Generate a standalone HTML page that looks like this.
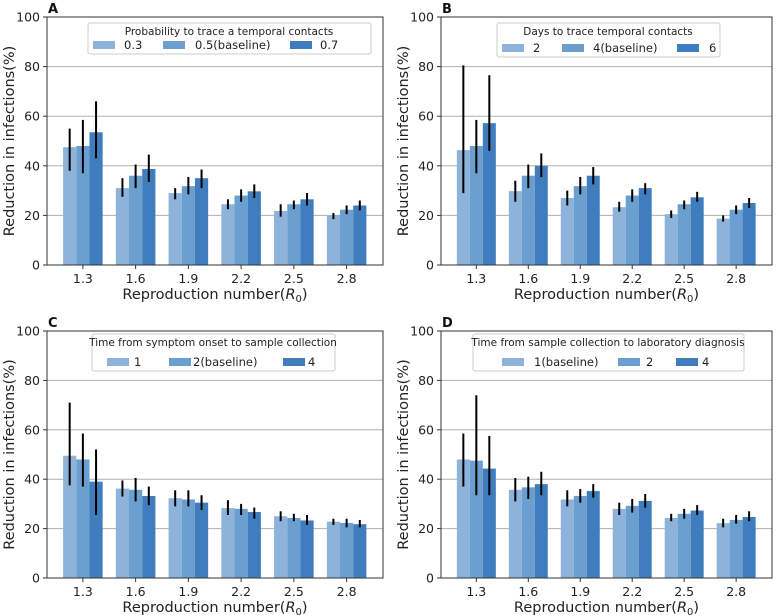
<!DOCTYPE html>
<html><head><meta charset="utf-8"><style>
body{margin:0;background:#fff;}
svg{display:block;font-family:"DejaVu Sans","Liberation Sans",sans-serif;}
</style></head><body>
<svg id="fig" width="778" height="615" viewBox="0 0 778 615"></svg>
<script>
const categories = ["1.3","1.6","1.9","2.2","2.5","2.8"];
const yTicks = [0,20,40,60,80,100];
const colors = ["#8db3da","#6a9fd0","#3f7dbe"];
// Panel A
const aTitle = "Probability to trace a temporal contacts";
const aLabels = ["0.3","0.5(baseline)","0.7"];
const aMean = [[47.5,31,29,24.5,21.8,20],[48,36,31.8,28,24.5,22.3],[53.5,38.7,35,29.7,26.5,24]];
const aLo = [[38,27.5,26.5,22.5,19.5,18.5],[37,31,28.5,25.5,22.5,20.5],[43,33.5,31,27,24,22]];
const aHi = [[55,35,31,26.5,24.5,21],[58.5,40.5,35.5,30.5,26,24],[66,44.5,38.5,32.5,29,26]];
// Panel B
const bTitle = "Days to trace temporal contacts";
const bLabels = ["2","4(baseline)","6"];
const bMean = [[46.3,29.8,27,23.3,20.5,18.7],[48,36,31.8,28,24.5,22.3],[57.2,40,36,31,27.3,25]];
const bLo = [[29,25.5,24,21.5,19,17.5],[37,31,28.5,25.5,22.5,20.5],[46,35.5,32.5,28.5,25.5,23]];
const bHi = [[80.5,34,30,25.5,22,20],[58.5,40.5,35.5,30.5,26,24],[76.5,45,39.5,33,29.5,27]];
// Panel C
const cTitle = "Time from symptom onset to sample collection";
const cLabels = ["1","2(baseline)","4"];
const cMean = [[49.5,36.2,32.3,28.3,25,22.8],[48,35.7,31.8,28,24.3,22.3],[39,33.2,30.5,26.7,23.3,21.8]];
const cLo = [[37.5,33,29,25.5,23,21.5],[37,31,29,25.5,23,20.5],[25.5,29.5,27.5,24,21.5,20.5]];
const cHi = [[71,39.5,35.5,31.5,27,24],[58.5,40.5,35.5,30,26,24],[52,37,33.5,28.5,25.5,23.5]];
// Panel D
const dTitle = "Time from sample collection to laboratory diagnosis";
const dLabels = ["1(baseline)","2","4"];
const dMean = [[48,35.7,31.8,28,24.3,22.2],[47.5,36.7,33.2,29.2,26,23.5],[44.3,38,35.2,31.2,27.3,24.7]];
const dLo = [[37,31,29,25.5,23,20.5],[33.5,32,30.5,26.5,24,22],[33.5,33.5,32.5,28.5,25.5,23]];
const dHi = [[58.5,40.5,35.5,30.5,26,24],[74,41,36,32,28,25.5],[57.5,43,38,34,29.5,27]];

const NS="http://www.w3.org/2000/svg";
const svg=document.getElementById('fig');
function mk(tag,attrs,parent,text){const e=document.createElementNS(NS,tag);for(const k in attrs)e.setAttribute(k,attrs[k]);if(text!==undefined)e.textContent=text;(parent||svg).appendChild(e);return e;}

const panels=[
 {id:"a",letter:"A",L:47,R:383,T:17,B:265,mean:aMean,lo:aLo,hi:aHi,title:aTitle,labels:aLabels,
  leg:{x:88,y:23,w:283,h:31,tx:229,patch:[93,163,290],lab:[124,195,320]}},
 {id:"b",letter:"B",L:441,R:772,T:17,B:265,mean:bMean,lo:bLo,hi:bHi,title:bTitle,labels:bLabels,
  leg:{x:497,y:23,w:223,h:34,tx:608,patch:[502,562,677],lab:[533,593,709]}},
 {id:"c",letter:"C",L:47,R:383,T:331,B:578,mean:cMean,lo:cLo,hi:cHi,title:cTitle,labels:cLabels,
  leg:{x:92,y:334,w:243,h:37,tx:213,patch:[107,169,283],lab:[134,193,308]}},
 {id:"d",letter:"D",L:441,R:772,T:331,B:578,mean:dMean,lo:dLo,hi:dHi,title:dTitle,labels:dLabels,
  leg:{x:473,y:334,w:271,h:37,tx:608,patch:[502,618,676],lab:[534,646,702]}}
];
const XMIN=-0.68, XMAX=5.69;
panels.forEach(p=>{
  const g=mk('g',{});
  
  
  const xs=i=>p.L+(i-XMIN)/(XMAX-XMIN)*(p.R-p.L);
  const ys=v=>p.B-v/100*(p.B-p.T);
  const step=xs(1)-xs(0), bw=step*0.25;
  yTicks.forEach(t=>{ if(t>0&&t<100){const l=mk('line',{x1:p.L,x2:p.R,y1:ys(t),y2:ys(t),stroke:'#b0b0b0','stroke-width':1},g);
    }});
  for(let s=0;s<3;s++){for(let i=0;i<categories.length;i++){
    const cx=xs(i)+(s-1)*bw;
    const r=mk('rect',{x:cx-bw/2,y:ys(p.mean[s][i]),width:bw,height:ys(0)-ys(p.mean[s][i]),fill:colors[s]},g);
    
    
  }}
  for(let s=0;s<3;s++){for(let i=0;i<categories.length;i++){
    const cx=xs(i)+(s-1)*bw;
    const e=mk('line',{x1:cx,x2:cx,y1:ys(p.lo[s][i]),y2:ys(p.hi[s][i]),stroke:'#000','stroke-width':2},g);
    
    
  }}
  const fr=mk('rect',{x:p.L,y:p.T,width:p.R-p.L,height:p.B-p.T,fill:'none',stroke:'#333','stroke-width':1},g);
  
  yTicks.forEach(t=>{mk('line',{x1:p.L-4,x2:p.L,y1:ys(t),y2:ys(t),stroke:'#333'},g);
    const tx=mk('text',{x:p.L-7,y:ys(t)+4.5,'text-anchor':'end','font-size':12.5,fill:'#222'},g,String(t));
    });
  categories.forEach((c,i)=>{mk('line',{x1:xs(i),x2:xs(i),y1:p.B,y2:p.B+4,stroke:'#333'},g);
    const tx=mk('text',{x:xs(i),y:p.B+18,'text-anchor':'middle','font-size':12.5,fill:'#222'},g,c);
    });
  const xl=mk('text',{x:(p.L+p.R)/2,y:p.B+34,'text-anchor':'middle','font-size':14.5,fill:'#222'},g);
  
  xl.innerHTML='Reproduction number(<tspan font-style="italic">R</tspan><tspan font-size="10" dy="3">0</tspan><tspan dy="-3">)</tspan>';
  const yc=(p.T+p.B)/2, yx=p.L-33;
  const yl=mk('text',{x:yx,y:yc,'text-anchor':'middle','font-size':14.5,fill:'#222',transform:`rotate(-90 ${yx} ${yc})`},g,'Reduction in infections(%)');
  
  const lt=mk('text',{x:p.L+1,y:p.T-4,'font-size':13,'font-weight':'bold',fill:'#111'},g,p.letter);
  
  const lg=mk('g',{},g);
  
  const q=p.leg;
  mk('rect',{x:q.x,y:q.y,width:q.w,height:q.h,fill:'#fff','fill-opacity':0.85,stroke:'#ccc',rx:2},lg);
  const lti=mk('text',{x:q.tx,y:q.y+12,'text-anchor':'middle','font-size':10.5,fill:'#222'},lg,p.title);
  
  for(let s=0;s<3;s++){
    const py=q.y+q.h-13;
    const pr=mk('rect',{x:q.patch[s],y:py,width:22,height:8,fill:colors[s]},lg);
    
    const lb=mk('text',{x:q.lab[s],y:py+8,'font-size':11.5,fill:'#222'},lg,p.labels[s]);
    
  }
});
</script>
</body></html>
